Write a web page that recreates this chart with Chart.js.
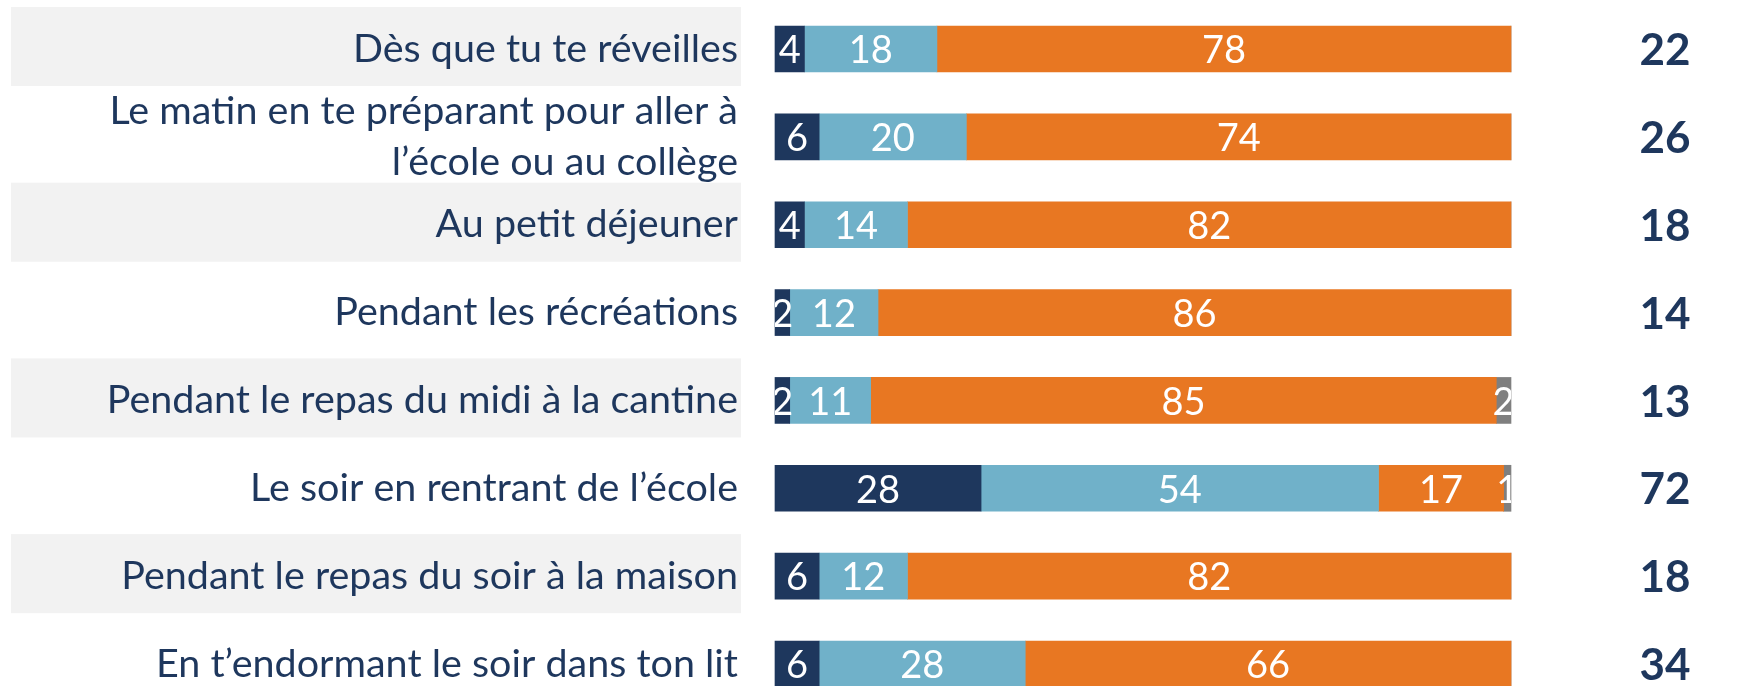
<!DOCTYPE html>
<html>
<head>
<meta charset="utf-8">
<script src="https://cdn.jsdelivr.net/npm/chart.js@4"></script>
<style>
  html, body { margin: 0; padding: 0; background: #fff; overflow: hidden; }
</style>
</head>
<body>
<canvas id="myChart" width="1761" height="686"></canvas>
<script>
let moments = [
  'Dès que tu te réveilles',
  ['Le matin en te préparant pour aller à', 'l’école ou au collège'],
  'Au petit déjeuner',
  'Pendant les récréations',
  'Pendant le repas du midi à la cantine',
  'Le soir en rentrant de l’école',
  'Pendant le repas du soir à la maison',
  'En t’endormant le soir dans ton lit'
];
let souvent = [4, 6, 4, 2, 2, 28, 6, 6];
let parfois = [18, 20, 14, 12, 11, 54, 12, 28];
let jamais = [78, 74, 82, 86, 85, 17, 82, 66];
let nsp = [0, 0, 0, 0, 2, 1, 0, 0];
let totaux = [22, 26, 18, 14, 13, 72, 18, 34];

let bleuFonce = '#1e375d';
let bleuClair = '#70b1c9';
let orange = '#e87722';
let gris = '#7f7f7f';

// bandes grises derriere une ligne sur deux
let bandes = {
  id: 'bandes',
  beforeDraw(chart) {
    let ctx = chart.ctx;
    let y = chart.scales.y;
    ctx.save();
    ctx.fillStyle = '#f2f2f2';
    for (let i = 0; i < moments.length; i += 2) {
      let c = y.getPixelForValue(i);
      ctx.fillRect(11, c - 42, 730, 79);
    }
    ctx.restore();
  }
};

// valeurs dans les barres + total a droite
let valeurs = {
  id: 'valeurs',
  afterDatasetsDraw(chart) {
    let ctx = chart.ctx;
    let area = chart.chartArea;
    ctx.save();
    ctx.beginPath();
    ctx.rect(area.left, 0, area.right - area.left, chart.height);
    ctx.clip();
    ctx.font = '38px Lato';
    ctx.fillStyle = '#fff';
    ctx.textAlign = 'center';
    ctx.textBaseline = 'middle';
    chart.data.datasets.forEach(function (ds, d) {
      let meta = chart.getDatasetMeta(d);
      meta.data.forEach(function (bar, i) {
        if (!ds.data[i]) return;
        ctx.fillText(ds.data[i], (bar.x + bar.base) / 2, bar.y + 2);
      });
    });
    ctx.restore();

    ctx.save();
    ctx.font = 'bold 44px Lato';
    ctx.fillStyle = bleuFonce;
    ctx.textAlign = 'center';
    ctx.textBaseline = 'middle';
    for (let i = 0; i < totaux.length; i++) {
      ctx.fillText(totaux[i], 1665, chart.scales.y.getPixelForValue(i) + 2);
    }
    ctx.restore();
  }
};

let ctx = document.getElementById('myChart').getContext('2d');
let chart = new Chart(ctx, {
  type: 'bar',
  data: {
    labels: moments,
    datasets: [
      { label: 'Souvent', data: souvent, backgroundColor: bleuFonce },
      { label: 'Parfois', data: parfois, backgroundColor: bleuClair },
      { label: 'Jamais', data: jamais, backgroundColor: orange },
      { label: 'NSP', data: nsp, backgroundColor: gris }
    ]
  },
  options: {
    indexAxis: 'y',
    responsive: false,
    animation: false,
    layout: { padding: { left: 0, right: 250, top: 49, bottom: 22 } },
    datasets: { bar: { barThickness: 46, clip: false, borderWidth: 0 } },
    scales: {
      x: { stacked: true, min: 0, max: 100, display: false },
      y: {
        stacked: true,
        offset: false,
        grid: { display: false, drawTicks: false },
        border: { display: false },
        ticks: {
          autoSkip: false,
          padding: 37,
          color: bleuFonce,
          font: { family: 'Lato', size: 39.5, lineHeight: 1.28 }
        },
        afterFit: function (s) {
          s.width = 775;
          s.paddingTop = 0;
          s.paddingBottom = 0;
        }
      }
    },
    plugins: {
      legend: { display: false },
      tooltip: { enabled: false }
    }
  },
  plugins: [bandes, valeurs]
});
</script>
</body>
</html>
